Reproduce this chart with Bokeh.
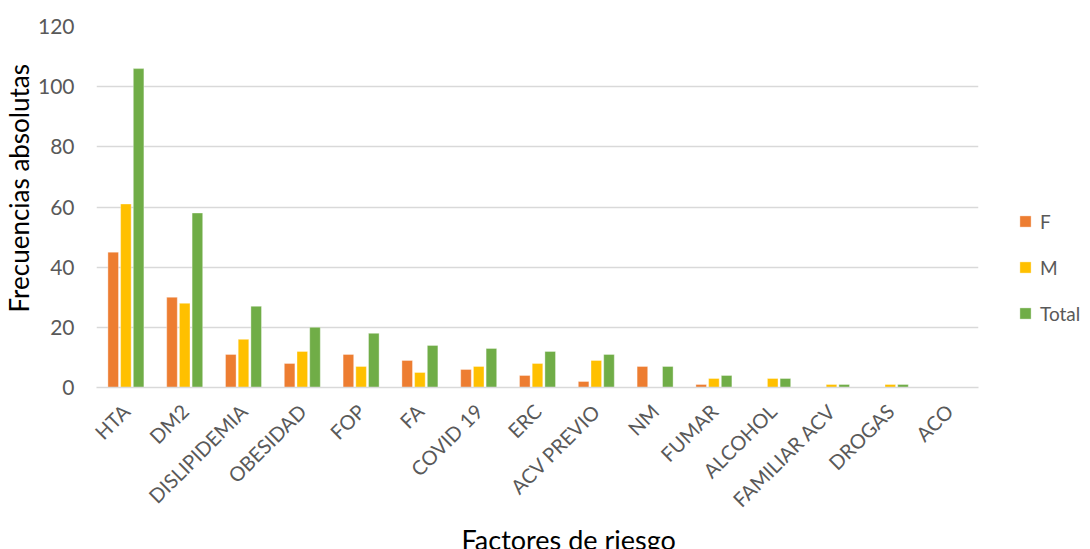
from bokeh.plotting import figure
from bokeh.models import ColumnDataSource, Legend, LegendItem, Title, FactorRange, Range1d
from bokeh.transform import dodge
from bokeh.embed import file_html
from bokeh.resources import INLINE
import math

categories = ["HTA", "DM2", "DISLIPIDEMIA", "OBESIDAD", "FOP", "FA", "COVID 19", "ERC",
              "ACV PREVIO", "NM", "FUMAR", "ALCOHOL", "FAMILIAR ACV", "DROGAS", "ACO"]
F = [45, 30, 11, 8, 11, 9, 6, 4, 2, 7, 1, 0, 0, 0, 0]
M = [61, 28, 16, 12, 7, 5, 7, 8, 9, 0, 3, 3, 1, 1, 0]
Total = [106, 58, 27, 20, 18, 14, 13, 12, 11, 7, 4, 3, 1, 1, 0]
y_ticks = [0, 20, 40, 60, 80, 100, 120]

src = ColumnDataSource(dict(cat=categories, F=F, M=M, Total=Total))

FONT = "Lato"
GREY = "#595959"

p = figure(x_range=FactorRange(*categories), y_range=Range1d(0, 120),
           frame_width=882, frame_height=361, output_backend="svg", toolbar_location=None,
           min_border_left=96, min_border_right=112, min_border_top=26, min_border_bottom=162)
p.outline_line_color = None

colors = ["#ED7D31", "#FFC000", "#70AD47"]
names = ["F", "M", "Total"]
offsets = [-0.216, 0.0, 0.216]
renderers = []
for n, c, o in zip(names, colors, offsets):
    r = p.vbar(x=dodge("cat", o, range=p.x_range), top=n, width=0.18, source=src,
               fill_color=c, line_color="white", line_width=0.6, line_alpha=0.6)
    renderers.append(r)

p.yaxis.ticker = y_ticks
p.yaxis.axis_line_color = None
p.yaxis.major_tick_line_color = None
p.yaxis.minor_tick_line_color = None
p.yaxis.major_tick_in = 0
p.yaxis.major_tick_out = 0
p.yaxis.major_label_text_font = FONT
p.yaxis.major_label_text_font_size = "21px"
p.yaxis.major_label_text_color = GREY
p.yaxis.major_label_standoff = 22

ytitle = Title(text="Frecuencias absolutas", text_font=FONT, text_font_size="26px",
               text_font_style="normal", text_color="#000000", align="left",
               offset=75, standoff=0)
p.add_layout(ytitle, "left")

p.xaxis.axis_line_color = "#d9d9d9"
p.xaxis.axis_line_width = 1.5
p.xaxis.major_tick_line_color = None
p.xaxis.minor_tick_line_color = None
p.xaxis.major_tick_in = 0
p.xaxis.major_tick_out = 0
p.xaxis.major_label_orientation = math.pi / 4
p.xaxis.major_label_text_font = FONT
p.xaxis.major_label_text_font_size = "20px"
p.xaxis.major_label_text_color = GREY
p.xaxis.major_label_standoff = 20

p.xgrid.grid_line_color = None
p.ygrid.grid_line_color = "#d9d9d9"
p.ygrid.grid_line_width = 1.5

xtitle = Title(text="Factores de riesgo", text_font=FONT, text_font_size="27px",
               text_font_style="normal", text_color="#000000", align="left",
               offset=365, standoff=-3)
p.add_layout(xtitle, "below")

legend = Legend(items=[LegendItem(label=n, renderers=[r]) for n, r in zip(names, renderers)],
                location=(40, 62), orientation="vertical",
                glyph_width=14, glyph_height=14, label_standoff=8, spacing=22,
                label_height=24, label_text_font=FONT, label_text_font_size="19px",
                label_text_color=GREY, background_fill_alpha=0, border_line_color=None,
                padding=0, margin=0)
p.add_layout(legend, "right")

open("out.html", "w").write(file_html(p, INLINE))
